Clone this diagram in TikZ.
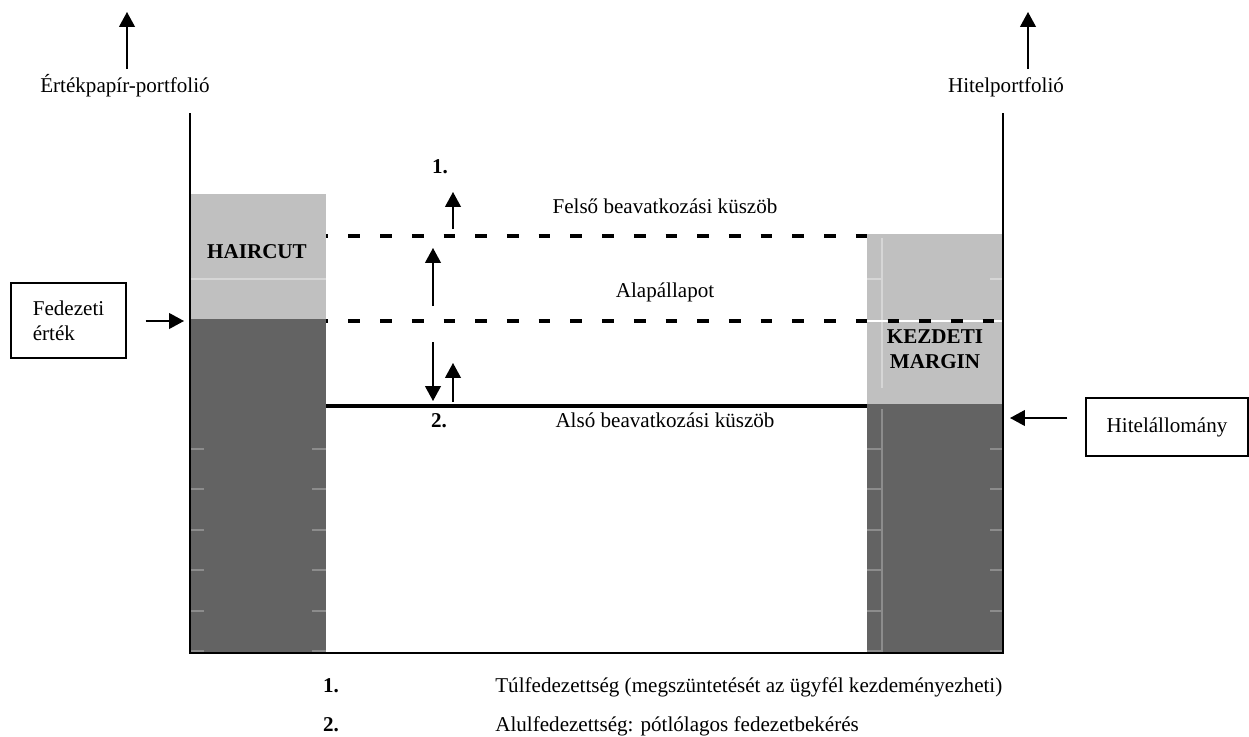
\documentclass[tikz,border=0pt]{standalone}
\usepackage{fontspec}
\setmainfont{Liberation Serif}
\usetikzlibrary{arrows.meta}
\definecolor{lightbar}{RGB}{192,192,192}
\definecolor{darkbar}{RGB}{99,99,99}
\definecolor{tickdark}{RGB}{140,140,140}
\definecolor{ticklight}{RGB}{214,214,214}
\tikzset{
  txt/.style={font=\fontsize{12}{14}\selectfont, inner sep=0pt, anchor=base},
  btxt/.style={txt, font=\fontsize{12}{14}\selectfont\bfseries},
  infobox/.style={draw, line width=0.8pt, font=\fontsize{12}{14}\selectfont},
  arr/.style={-{Triangle[length=8.5pt,width=9pt]}, line width=0.85pt},
  thresh/.style={line width=2.5pt, dash pattern=on 6.65pt off 11.4pt, dash phase=5.3pt},
}
\begin{document}
\begin{tikzpicture}[x=0.02cm,y=-0.02cm]
    \useasboundingbox (0,0) rectangle (1249,737);
    % bars
    \fill[lightbar] (191,194) rectangle (326,319);
    \fill[darkbar] (191,319) rectangle (326,653);
    \fill[lightbar] (867,234) rectangle (1002,404);
    \fill[darkbar] (867,404) rectangle (1002,653);
    \foreach \y in {449,489,530,570,611,651}
        \draw[tickdark, line width=0.6pt] (191,\y) -- (204,\y) (312,\y) -- (326,\y)
            (867,\y) -- (882,\y) (990,\y) -- (1002,\y);
    \draw[tickdark, line width=0.6pt] (882,409) -- (882,653);
    \draw[ticklight, line width=0.6pt] (882,238) -- (882,388)
        (867,279) -- (882,279) (990,279) -- (1002,279) (191,279) -- (326,279);
    % axes
    \draw[line width=1.4pt] (190,113) -- (190,653) -- (1003,653) -- (1003,113);
    % thresholds
    \draw[thresh] (326,236) -- (867,236);
    \draw[white, line width=1.6pt] (867,321) -- (1002,321);
    \draw[thresh] (326,321) -- (1002,321);
    \draw[line width=2.4pt] (326,406) -- (867,406);

    \node (secport) [txt] at (125,92) {Értékpapír-portfolió};
    \node (loanport) [txt] at (1006,92) {Hitelportfolió};
    \coordinate (sectip) at (127,12);
    \coordinate (loantip) at (1028,12);
    \draw[arr] (127,69) -- (sectip);
    \draw[arr] (1028,69) -- (loantip);

    \node (one) [btxt] at (440,173) {1.};
    \node (upper) [txt] at (665,213) {Felső beavatkozási küszöb};
    \node (base) [txt] at (665,297) {Alapállapot};
    \node (two) [btxt] at (439,427) {2.};
    \node (lower) [txt] at (665,427) {Alsó beavatkozási küszöb};
    \draw[arr] (453,229) -- (453,192);
    \draw[arr] (433,306) -- (433,248);
    \draw[arr] (433,342) -- (433,401);
    \draw[arr] (453,402) -- (453,363);

    \node (haircut) [btxt] at (257,258) {HAIRCUT};
    \node (margin) [btxt, align=center] at (935,368) {KEZDETI\\MARGIN};

    \node (fedbox) [infobox, align=left, minimum width=2.3cm, minimum height=1.5cm] at (68.5,320.5) {Fedezeti\\érték};
    \node (hitbox) [infobox, minimum width=3.24cm, minimum height=1.16cm] at (1167,427) {Hitelállomány};
    \coordinate (fedtip) at (184,321);
    \coordinate (hittip) at (1010,418);
    \draw[arr] ([xshift=0.38cm]fedbox.east |- fedtip) -- (fedtip);
    \draw[arr] ([xshift=-0.36cm]hitbox.west |- hittip) -- (hittip);

    \node (leg1) [btxt] at (331,692) {1.};
    \node (legtxt1) [txt, anchor=base west] at (495,692) {Túlfedezettség (megszüntetését az ügyfél kezdeményezheti)};
    \node (leg2) [btxt] at (331,731) {2.};
    \node (legtxt2) [txt, anchor=base west] at (495,731) {Alulfedezettség: pótlólagos fedezetbekérés};
\end{tikzpicture}
\end{document}
